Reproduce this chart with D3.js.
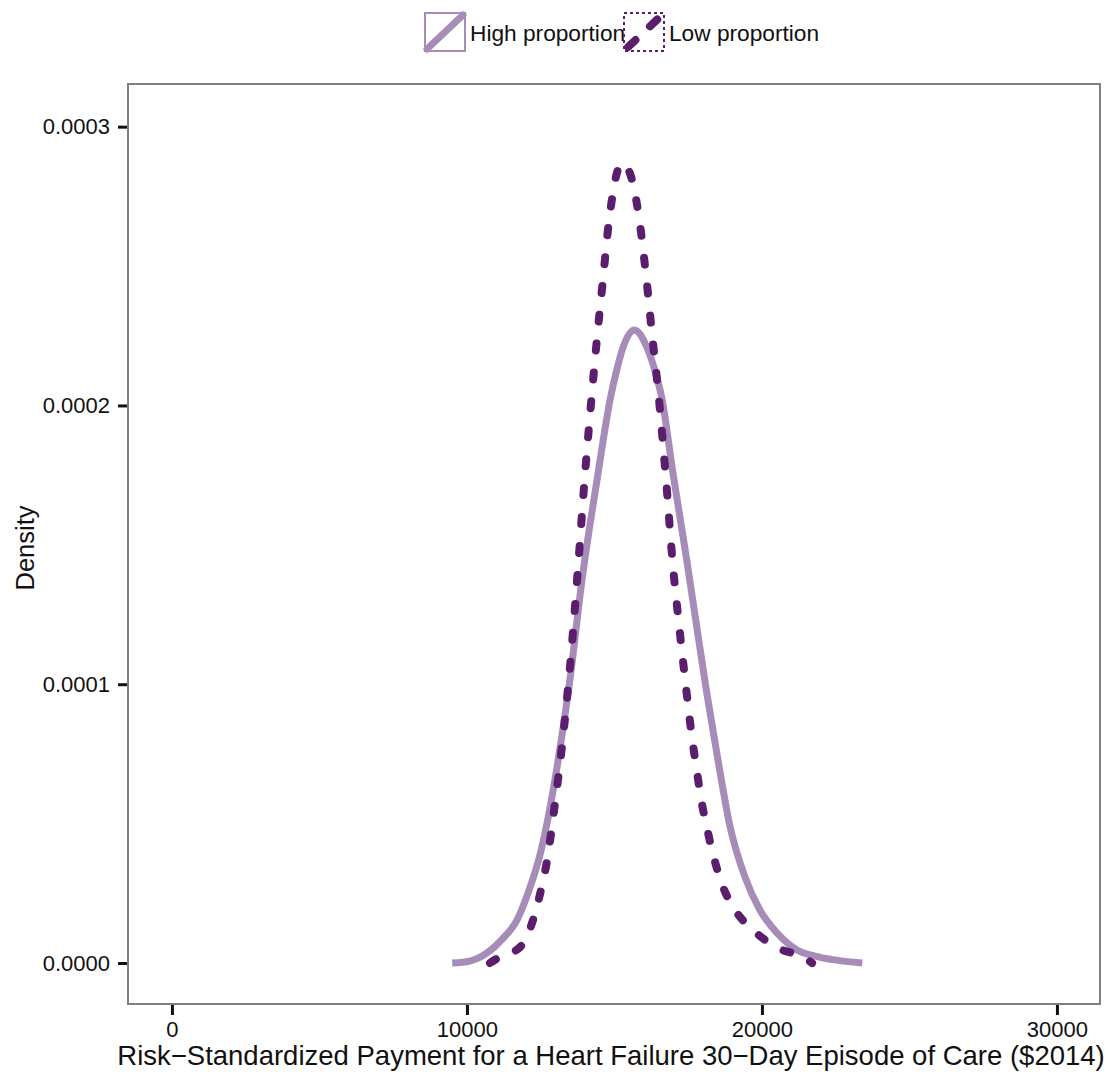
<!DOCTYPE html>
<html>
<head>
<meta charset="utf-8">
<script src="https://cdn.jsdelivr.net/npm/d3@7"></script>
<style>
  body { margin: 0; background: #fff; }
  text { font-family: "Liberation Sans", Arial, sans-serif; fill: #111; }
</style>
</head>
<body>
<div id="chart"></div>
<script>
// density curves (payment in $2014, density)
const highPayment = [9500, 10100, 10680, 11190, 11700, 12140, 12480, 12750, 13050, 13490, 13900, 14410, 14870, 15050, 15300, 15670, 16090, 16400, 16600, 16980, 17450, 17790, 18130, 18510, 18920, 19420, 19930, 20510, 21190, 21800, 22400, 23400];
const highDensity = [0, 0.0000007, 0.0000036, 0.0000085, 0.0000155, 0.0000272, 0.000039, 0.000052, 0.00007, 0.0001015, 0.0001374, 0.0001733, 0.000203, 0.0002115, 0.0002211, 0.0002271, 0.0002211, 0.0002115, 0.000203, 0.000176, 0.0001446, 0.0001206, 0.0000969, 0.0000728, 0.0000489, 0.000031, 0.000019, 0.0000108, 0.0000047, 0.0000025, 0.0000012, 0];

const lowPayment = [10780, 11050, 11800, 12240, 12510, 12720, 12980, 13220, 13515, 13755, 13976, 14227, 14410, 14610, 14810, 14950, 15100, 15290, 15480, 15660, 15830, 16070, 16270, 16480, 16750, 16980, 17190, 17410, 17640, 17790, 17930, 18130, 18350, 18630, 19090, 19700, 20540, 21460, 21700];
const lowDensity = [0, 0.0000018, 0.0000057, 0.0000154, 0.0000262, 0.000037, 0.000057, 0.0000776, 0.0001089, 0.0001404, 0.0001718, 0.0002032, 0.0002242, 0.000245, 0.0002658, 0.0002762, 0.000284, 0.000287, 0.0002845, 0.000278, 0.0002676, 0.0002468, 0.000226, 0.0002055, 0.0001733, 0.0001428, 0.0001213, 0.0001004, 0.00008, 0.0000692, 0.0000592, 0.0000488, 0.0000387, 0.0000287, 0.000019, 0.0000118, 0.0000054, 0.0000018, 0];

const seriesNames = ["High proportion", "Low proportion"];
const xTicks = [0, 10000, 20000, 30000];
const yTicks = [0, 0.0001, 0.0002, 0.0003];

const width = 1108, height = 1072;
const panel = {left: 128, top: 84, right: 1100, bottom: 1004};

const series = [
  {name: seriesNames[0], color: "#a78cb9", width: 7, dash: null,
   values: highPayment.map((p, i) => ({x: p, y: highDensity[i]}))},
  {name: seriesNames[1], color: "#5b1e6c", width: 8, dash: "7,22",
   values: lowPayment.map((p, i) => ({x: p, y: lowDensity[i]}))}
];

const svg = d3.select("#chart")
  .append("svg")
  .attr("width", width)
  .attr("height", height);

const xScale = d3.scaleLinear()
  .domain([-1490, 31460])
  .range([panel.left, panel.right]);

const yScale = d3.scaleLinear()
  .domain([-0.0000147, 0.0003153])
  .range([panel.bottom, panel.top]);

const line = d3.line()
  .x(d => xScale(d.x))
  .y(d => yScale(d.y))
  .curve(d3.curveMonotoneX);

svg.selectAll(".curve")
  .data(series)
  .enter()
  .append("path")
  .attr("class", "curve")
  .attr("d", d => line(d.values))
  .attr("fill", "none")
  .attr("stroke", d => d.color)
  .attr("stroke-width", d => d.width)
  .attr("stroke-linecap", d => d.dash ? "round" : "butt")
  .attr("stroke-linejoin", "round")
  .attr("stroke-dasharray", d => d.dash);

// panel border
svg.append("rect")
  .attr("x", panel.left)
  .attr("y", panel.top)
  .attr("width", panel.right - panel.left)
  .attr("height", panel.bottom - panel.top)
  .attr("fill", "none")
  .attr("stroke", "#808080")
  .attr("stroke-width", 2);

// axes
const xAxis = d3.axisBottom(xScale)
  .tickValues(xTicks)
  .tickSize(10)
  .tickPadding(6)
  .tickFormat(d3.format("d"));

const yAxis = d3.axisLeft(yScale)
  .tickValues(yTicks)
  .tickSize(9)
  .tickPadding(8)
  .tickFormat(d3.format(".4f"));

const gx = svg.append("g")
  .attr("transform", `translate(0,${panel.bottom + 1})`)
  .call(xAxis);

const gy = svg.append("g")
  .attr("transform", `translate(${panel.left - 1},0)`)
  .call(yAxis);

[gx, gy].forEach(g => {
  g.select(".domain").remove();
  g.selectAll(".tick line").attr("stroke", "#111").attr("stroke-width", 3);
  g.selectAll(".tick text").attr("font-size", 22).attr("fill", "#111")
    .attr("font-family", "'Liberation Sans', Arial, sans-serif");
});

// axis titles
svg.append("text")
  .attr("x", 611)
  .attr("y", 1065)
  .attr("text-anchor", "middle")
  .attr("font-size", 27.5)
  .text("Risk\u2212Standardized Payment for a Heart Failure 30\u2212Day Episode of Care ($2014)");

svg.append("text")
  .attr("transform", "translate(34,548) rotate(-90)")
  .attr("text-anchor", "middle")
  .attr("font-size", 25.5)
  .text("Density");

// legend
const legendX = [424, 623];
const legend = svg.selectAll(".legend")
  .data(series)
  .enter()
  .append("g")
  .attr("class", "legend")
  .attr("transform", (d, i) => `translate(${legendX[i]},12)`);

legend.append("rect")
  .attr("x", 1)
  .attr("y", 1)
  .attr("width", 40)
  .attr("height", 38)
  .attr("fill", "none")
  .attr("stroke", d => d.color)
  .attr("stroke-width", 2)
  .attr("stroke-dasharray", d => d.dash ? "3,3" : null);

legend.append("line")
  .attr("x1", 3)
  .attr("y1", 37)
  .attr("x2", 39)
  .attr("y2", 3)
  .attr("stroke", d => d.color)
  .attr("stroke-width", d => d.width)
  .attr("stroke-linecap", "round")
  .attr("stroke-dasharray", d => d.dash ? "10,20" : null)
  .attr("stroke-dashoffset", d => d.dash ? -3 : null);

legend.append("text")
  .attr("x", 46)
  .attr("y", 29)
  .attr("font-size", 22.7)
  .text(d => d.name);
</script>
</body>
</html>
